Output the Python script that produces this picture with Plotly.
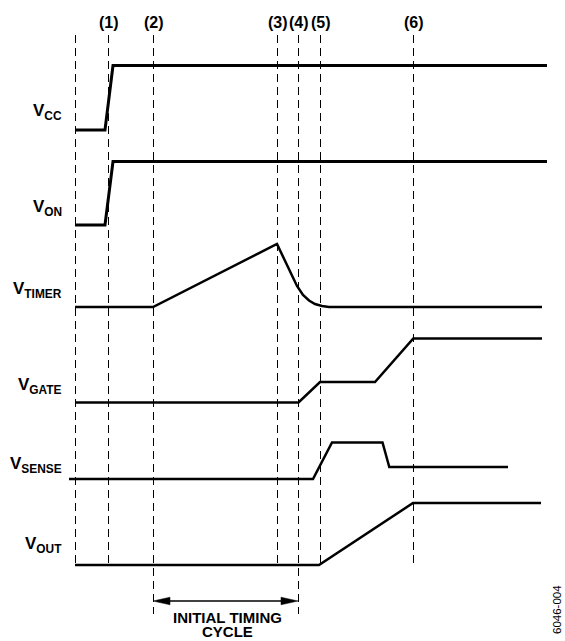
import plotly.graph_objects as go

# ---- data (time axis / level axis) ----
EVENT_T = [75, 108, 153, 277, 298, 320, 413]
EVENT_LABELS = ["", "(1)", "(2)", "(3)", "(4)", "(5)", "(6)"]
EVENT_BOTTOM = [565, 565, 614, 565, 614, 565, 565]
DASH_TOP = 35

VCC_T = [75, 105, 113, 547]
VCC_V = [130, 130, 65.5, 65.5]

VON_T = [75, 105, 113, 547]
VON_V = [225, 225, 161.5, 161.5]

VTIMER_T = [75, 153, 277, 297, 303, 309, 315, 322, 329, 542]
VTIMER_V = [307, 307, 244, 286, 295, 300.5, 304, 306, 307, 307]

VGATE_T = [75, 298.5, 320, 375, 413.3, 542]
VGATE_V = [402.5, 402.5, 382, 382, 338.5, 338.5]

VSENSE_T = [69, 313, 332, 382.5, 389.3, 508]
VSENSE_V = [479, 479, 442.5, 442.5, 467, 467]

VOUT_T = [75, 319, 413, 541]
VOUT_V = [565, 565, 503, 503]

SIGNAL_NAMES = ["V<sub>CC</sub>", "V<sub>ON</sub>", "V<sub>TIMER</sub>",
                "V<sub>GATE</sub>", "V<sub>SENSE</sub>", "V<sub>OUT</sub>"]
SIGNAL_LABEL_Y = [112, 208, 290, 386, 465, 545]

CYCLE_FROM, CYCLE_TO = 2, 4   # indices into EVENT_T
CYCLE_Y = 601
CYCLE_TEXT = ["INITIAL TIMING", "CYCLE"]
FIG_ID = "6046-004"

# ---- figure ----
PIX = 0.5  # half-pixel offset so 1px dashed lines render crisp
fig = go.Figure()

signals = [(VCC_T, VCC_V, 3), (VON_T, VON_V, 3), (VTIMER_T, VTIMER_V, 2.5),
           (VGATE_T, VGATE_V, 2.5), (VSENSE_T, VSENSE_V, 2.5), (VOUT_T, VOUT_V, 2.5)]
for t, v, w in signals:
    fig.add_trace(go.Scatter(x=t, y=v, mode="lines",
                             line=dict(color="black", width=w),
                             hoverinfo="skip", showlegend=False))

shapes = []
for t, b in zip(EVENT_T, EVENT_BOTTOM):
    shapes.append(dict(type="line", x0=t + PIX, x1=t + PIX, y0=DASH_TOP, y1=b,
                       xref="x", yref="y",
                       line=dict(color="black", width=1, dash="8px,5px")))

# initial timing cycle arrow
xa, xb = EVENT_T[CYCLE_FROM], EVENT_T[CYCLE_TO]
head_len, head_half = 17, 3.8
shapes.append(dict(type="line", x0=xa + 5, x1=xb - 5, y0=CYCLE_Y, y1=CYCLE_Y,
                   xref="x", yref="y", line=dict(color="black", width=1.6)))
shapes.append(dict(type="path", xref="x", yref="y",
                   path=f"M{xa},{CYCLE_Y} L{xa+head_len},{CYCLE_Y-head_half} L{xa+head_len},{CYCLE_Y+head_half} Z",
                   fillcolor="black", line=dict(color="black", width=0.5)))
shapes.append(dict(type="path", xref="x", yref="y",
                   path=f"M{xb},{CYCLE_Y} L{xb-head_len},{CYCLE_Y-head_half} L{xb-head_len},{CYCLE_Y+head_half} Z",
                   fillcolor="black", line=dict(color="black", width=0.5)))

bold = dict(family="Liberation Sans, Arial, sans-serif", size=15, color="black", weight="bold")
annotations = []
for t, lab in zip(EVENT_T, EVENT_LABELS):
    if lab:
        annotations.append(dict(x=t + PIX, y=22, text=lab, showarrow=False,
                                xanchor="center", yanchor="middle",
                                font=dict(bold, size=16)))
for name, y in zip(SIGNAL_NAMES, SIGNAL_LABEL_Y):
    annotations.append(dict(x=64, y=y, text=name, showarrow=False,
                            xanchor="right", yanchor="middle",
                            font=dict(bold, size=17)))
cx = (xa + xb) / 2 + 2
annotations.append(dict(x=cx, y=617, text=CYCLE_TEXT[0], showarrow=False,
                        xanchor="center", yanchor="middle", font=bold))
annotations.append(dict(x=cx, y=631.5, text=CYCLE_TEXT[1], showarrow=False,
                        xanchor="center", yanchor="middle", font=bold))
annotations.append(dict(x=557, y=610, text=FIG_ID, showarrow=False, textangle=-90,
                        xanchor="center", yanchor="middle",
                        font=dict(family="Liberation Sans, Arial, sans-serif", size=11.5, color="black")))

fig.update_layout(
    width=565, height=641,
    margin=dict(l=0, r=0, t=0, b=0),
    paper_bgcolor="white", plot_bgcolor="white",
    xaxis=dict(range=[0, 565], visible=False, fixedrange=True),
    yaxis=dict(range=[641, 0], visible=False, fixedrange=True),
    shapes=shapes, annotations=annotations,
)

fig.write_html("out.html", config={"displayModeBar": False},
               post_script="document.body.style.margin='0';document.body.style.overflow='hidden';")
